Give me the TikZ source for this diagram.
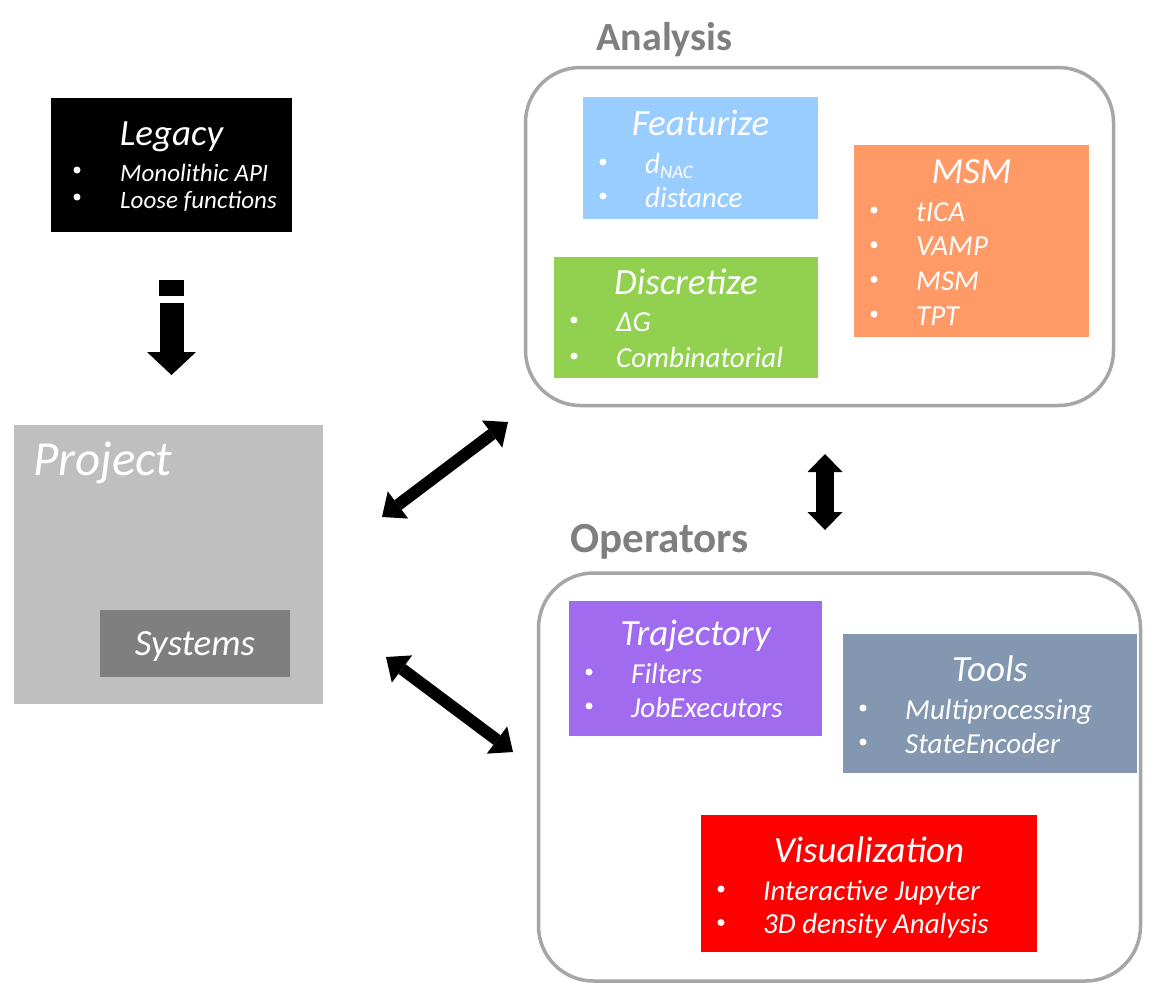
\documentclass[tikz,border=0pt]{standalone}
\usepackage{fontspec}
\setmainfont{Carlito}
\usetikzlibrary{arrows.meta}

\definecolor{legc}{HTML}{000000}
\definecolor{projc}{HTML}{BFBFBF}
\definecolor{sysc}{HTML}{7F7F7F}
\definecolor{featc}{HTML}{99CCFF}
\definecolor{discc}{HTML}{92D050}
\definecolor{msmc}{HTML}{FF9966}
\definecolor{trajc}{HTML}{A16BEF}
\definecolor{toolc}{HTML}{8497B0}
\definecolor{visc}{HTML}{FF0000}
\definecolor{framec}{HTML}{A6A6A6}
\definecolor{headc}{HTML}{7F7F7F}

\newcommand{\itemsz}{29}
\newcommand{\dotx}{20}
\newcommand{\textx}{62}
\newcommand{\subtxt}[1]{\raisebox{-5pt}{\fontsize{19}{19}\selectfont #1}}
% box name, first baseline below top, line spacing, entries
\newcommand{\bulitems}[4]{%
  \foreach \entry [count=\k from 0] in {#4}{
    \node[bul] (#1-b\k) at ([shift={(\dotx,#2+\k*#3-11)}]#1.north west) {};
    \node[item] (#1-i\k) at ([shift={(\textx,#2+\k*#3)}]#1.north west) {\entry};
  }}

\tikzset{
  box/.style={rectangle,inner sep=0pt,outer sep=0pt,draw=none},
  frame/.style={rectangle,rounded corners=55pt,draw=framec,line width=3.5pt,inner sep=0pt},
  head/.style={text=headc,font=\fontsize{40}{40}\selectfont\bfseries,anchor=base},
  boxtitle/.style={text=white,font=\fontsize{37}{37}\selectfont\itshape,anchor=base},
  item/.style={text=white,font=\fontsize{\itemsz}{\itemsz}\selectfont\itshape,anchor=base west,inner sep=0pt},
  bul/.style={circle,fill=white,inner sep=0pt,minimum size=7pt},
  dblarrow/.style={line width=12pt,{Triangle[width=34pt,length=20pt,line width=0pt]}-{Triangle[width=34pt,length=20pt,line width=0pt]}}
}

\begin{document}
\begin{tikzpicture}[x=1pt,y=-1pt]
	\useasboundingbox (0,0) rectangle (1158,989);

	%frames
	\node[frame,minimum width=588,minimum height=338] (analysis) at (819.5,236.5) {};
	\node[frame,minimum width=602,minimum height=408] (operators) at (839.5,777) {};
	\node[head] (analysis-h) at (664.5,50) {Analysis};
	\node[head,font=\fontsize{43}{43}\selectfont\bfseries] (operators-h) at (659.5,552) {Operators};

	%legacy
	\node[box,fill=legc,minimum width=241,minimum height=134] (legacy) at (171.5,165) {};
	\node[boxtitle] (legacy-t) at ([yshift=-47]legacy.north) {Legacy};
	\begin{scope}
	\renewcommand{\itemsz}{25}\renewcommand{\dotx}{26}\renewcommand{\textx}{69}
	\bulitems{legacy}{83}{27}{Monolithic API, Loose functions}
	\end{scope}

	%project
	\node[box,fill=projc,minimum width=309,minimum height=279] (project) at (168.5,564.5) {};
	\node[boxtitle,anchor=base west,inner sep=0pt,font=\fontsize{49}{49}\selectfont\itshape] (project-t) at (33,475) {Project};
	\node[box,fill=sysc,minimum width=190,minimum height=67] (systems) at (195,643.5) {};
	\node[boxtitle] (systems-t) at (195,655) {Systems};

	%analysis
	\node[box,fill=featc,minimum width=235,minimum height=122] (feat) at (700.5,158) {};
	\node[boxtitle] (feat-t) at ([yshift=-38]feat.north) {Featurize};
	\bulitems{feat}{76}{34}{{d\subtxt{NAC}}, distance}

	\node[box,fill=msmc,minimum width=235,minimum height=192] (msm) at (971.5,241) {};
	\node[boxtitle] (msm-t) at ([yshift=-38]msm.north) {MSM};
	\bulitems{msm}{76}{34.7}{tICA, VAMP, MSM, TPT}

	\node[box,fill=discc,minimum width=264,minimum height=121] (disc) at (686,317.5) {};
	\node[boxtitle] (disc-t) at ([yshift=-37]disc.north) {Discretize};
	\bulitems{disc}{74}{36}{ΔG, Combinatorial}

	%operators
	\node[box,fill=trajc,minimum width=253,minimum height=135] (traj) at (695.5,668.5) {};
	\node[boxtitle] (traj-t) at ([yshift=-44]traj.north) {Trajectory};
	\bulitems{traj}{82}{34}{Filters, JobExecutors}

	\node[box,fill=toolc,minimum width=294,minimum height=139] (tools) at (990,703.5) {};
	\node[boxtitle] (tools-t) at ([yshift=-47]tools.north) {Tools};
	\bulitems{tools}{85}{34}{Multiprocessing, StateEncoder}

	\node[box,fill=visc,minimum width=336,minimum height=137] (visual) at (869,883.5) {};
	\node[boxtitle] (visual-t) at ([yshift=-47]visual.north) {Visualization};
	\bulitems{visual}{85}{33.5}{Interactive Jupyter, 3D density Analysis}

	%arrows
	\node[box,fill=black,minimum width=25,minimum height=16] (legmark) at (171.5,288) {};
	\coordinate (leg-a) at (171.5,303);
	\coordinate (leg-b) at (171.5,375);
	\draw[line width=24pt,-{Triangle[width=49pt,length=23pt,line width=0pt]}] (leg-a) -- (leg-b); %legacy to project

	\coordinate (pa-a) at (382,517);
	\coordinate (pa-b) at (508,422);
	\draw[dblarrow] (pa-a) -- (pa-b); %project - analysis
	\coordinate (po-a) at (386,657);
	\coordinate (po-b) at (513,752);
	\draw[dblarrow] (po-a) -- (po-b); %project - operators
	\coordinate (ao-a) at (825,454);
	\coordinate (ao-b) at (825,530);
	\draw[line width=18pt,{Triangle[width=35pt,length=18pt,line width=0pt]}-{Triangle[width=35pt,length=18pt,line width=0pt]}] (ao-a) -- (ao-b); %analysis - operators

\end{tikzpicture}
\end{document}
